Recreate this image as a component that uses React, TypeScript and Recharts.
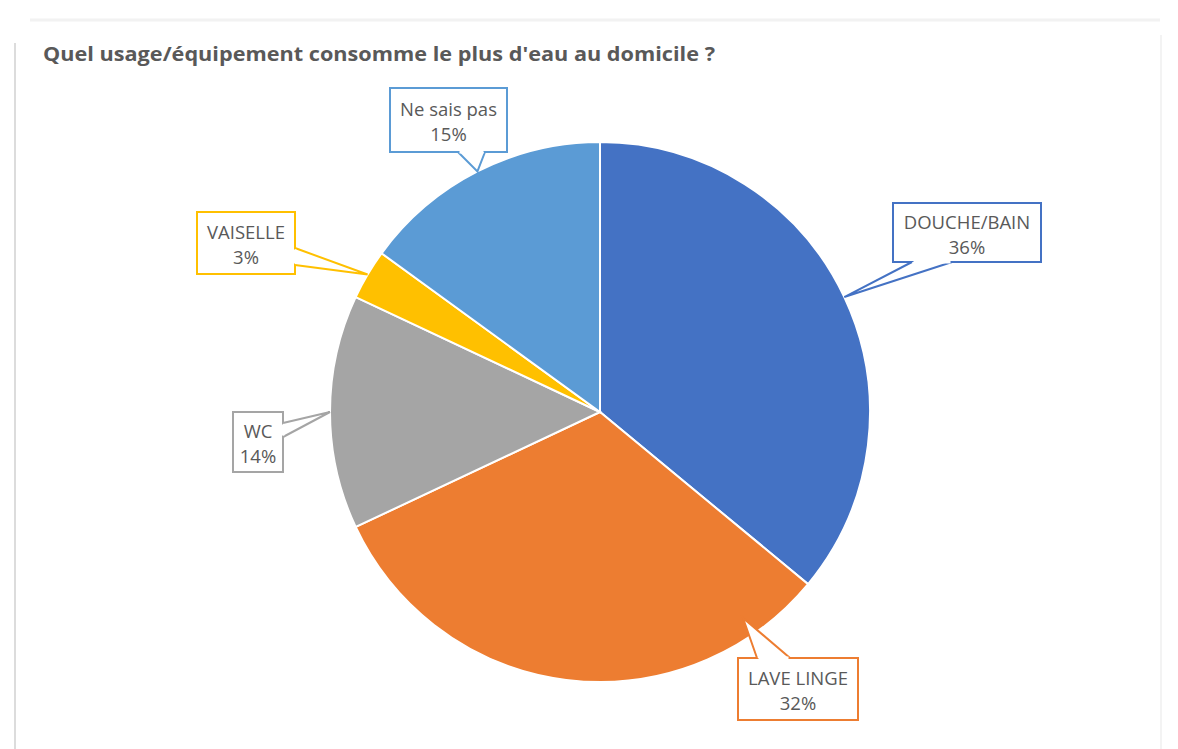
import { PieChart, Pie, Cell } from 'recharts';

const CATEGORIES = ['DOUCHE/BAIN', 'LAVE LINGE', 'WC', 'VAISELLE', 'Ne sais pas'];
const VALUES = [36, 32, 14, 3, 15];
const COLORS = ['#4472C4', '#ED7D31', '#A5A5A5', '#FFC000', '#5B9BD5'];
const TITLE = "Quel usage/équipement consomme le plus d'eau au domicile ?";

const data = CATEGORIES.map((name, i) => ({ name, value: VALUES[i] }));
const total = VALUES.reduce((s, v) => s + v, 0);

// callout boxes, relative to the pie centre
type Callout = {
  x: number;
  y: number;
  w: number;
  h: number;
  side: 'top' | 'bottom' | 'right';
  a: number;
  b: number;
  tip?: { dx: number; dy: number };
};

const CALLOUTS: Callout[] = [
  { x: 293, y: -209, w: 148, h: 59, side: 'bottom', a: 19, b: 59 },
  { x: 138, y: 246, w: 120, h: 62, side: 'top', a: 19, b: 52, tip: { dx: 143, dy: 206 } },
  { x: -367, y: 0, w: 50, h: 60, side: 'right', a: 11, b: 25 },
  { x: -403, y: -200, w: 98, h: 62, side: 'right', a: 36, b: 53 },
  { x: -210, y: -324, w: 117, h: 64, side: 'bottom', a: 68, b: 95 },
];

const RADIAN = Math.PI / 180;

function CalloutLabel(props: any) {
  const { cx, cy, midAngle, outerRadius, index } = props;
  const c = CALLOUTS[index];
  const color = COLORS[index];
  const bx = cx + c.x;
  const by = cy + c.y;
  const tipX = c.tip ? cx + c.tip.dx : cx + outerRadius * Math.cos(-midAngle * RADIAN);
  const tipY = c.tip ? cy + c.tip.dy : cy + outerRadius * Math.sin(-midAngle * RADIAN);

  let p1: [number, number];
  let p2: [number, number];
  if (c.side === 'bottom') {
    p1 = [bx + c.a, by + c.h];
    p2 = [bx + c.b, by + c.h];
  } else if (c.side === 'top') {
    p1 = [bx + c.a, by];
    p2 = [bx + c.b, by];
  } else {
    p1 = [bx + c.w, by + c.a];
    p2 = [bx + c.w, by + c.b];
  }
  const horiz = c.side !== 'right';
  const inset = 1.5;
  const w1: [number, number] = horiz ? [p1[0] + inset, p1[1]] : [p1[0], p1[1] + inset];
  const w2: [number, number] = horiz ? [p2[0] - inset, p2[1]] : [p2[0], p2[1] - inset];
  const mid = by + c.h / 2;
  const pct = `${Math.round((VALUES[index] / total) * 100)}%`;

  return (
    <g>
      <rect x={bx} y={by} width={c.w} height={c.h} fill="#ffffff" stroke={color} strokeWidth={2} />
      <path
        d={`M${p1[0]},${p1[1]} L${tipX},${tipY} L${p2[0]},${p2[1]}`}
        fill="#ffffff"
        stroke={color}
        strokeWidth={2}
        strokeLinejoin="miter"
      />
      <line x1={w1[0]} y1={w1[1]} x2={w2[0]} y2={w2[1]} stroke="#ffffff" strokeWidth={3} />
      <text
        x={bx + c.w / 2}
        y={mid - 4}
        textAnchor="middle"
        fontSize={18.5}
        fontFamily="'Open Sans', sans-serif"
        fill="#595959"
      >
        {CATEGORIES[index]}
      </text>
      <text
        x={bx + c.w / 2}
        y={mid + 21}
        textAnchor="middle"
        fontSize={18.5}
        fontFamily="'Open Sans', sans-serif"
        fill="#595959"
      >
        {pct}
      </text>
    </g>
  );
}

export default function App() {
  return (
    <div style={{ position: 'absolute', left: 0, top: 0, width: 1178, height: 749, background: '#ffffff' }}>
      {/* cadre + titre */}
      <svg width={1178} height={749} style={{ position: 'absolute', left: 0, top: 0 }}>
        <line x1={30} y1={20} x2={1160} y2={20} stroke="#f2f2f2" strokeWidth={3} />
        <line x1={15} y1={43} x2={15} y2={749} stroke="#dcdcdc" strokeWidth={2} />
        <line x1={1161} y1={35} x2={1161} y2={749} stroke="#f3f3f3" strokeWidth={2} />
        <text
          x={43}
          y={61}
          fontSize={19}
          fontWeight="bold"
          fontFamily="'Open Sans', sans-serif"
          fill="#595959"
          textLength={672}
          lengthAdjust="spacingAndGlyphs"
        >
          {TITLE}
        </text>
      </svg>

      <div style={{ position: 'absolute', left: 0, top: 0 }}>
        <PieChart width={1178} height={749} margin={{ top: 0, right: 0, bottom: 0, left: 0 }}>
          <Pie
            data={data}
            dataKey="value"
            nameKey="name"
            cx={600}
            cy={412}
            outerRadius={270}
            startAngle={90}
            endAngle={-270}
            stroke="#ffffff"
            strokeWidth={2}
            label={CalloutLabel}
            labelLine={false}
            isAnimationActive={false}
          >
            {data.map((d, i) => (
              <Cell key={d.name} fill={COLORS[i]} />
            ))}
          </Pie>
        </PieChart>
      </div>
    </div>
  );
}
